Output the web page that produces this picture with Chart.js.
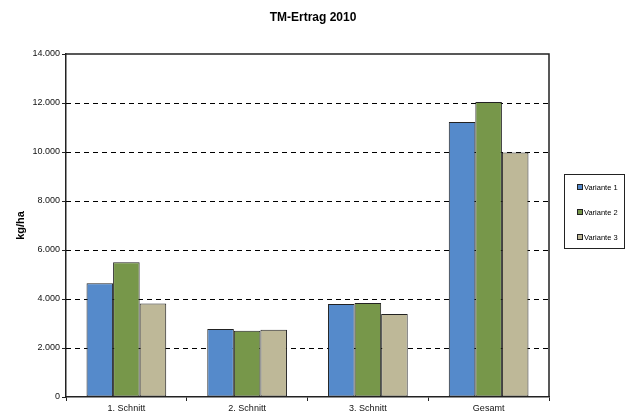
<!DOCTYPE html>
<html>
<head>
    <meta charset="utf-8" />
    <title>TM-Ertrag 2010</title>
    <style>
        html, body { margin: 0; padding: 0; background: #fff; }
        #wrap { width: 626px; height: 415px; }
    </style>
</head>
<body>
    <div id="wrap"><canvas id="chart" width="626" height="415"></canvas></div>

    <script src="https://cdn.jsdelivr.net/npm/chart.js"></script>
    <script type="text/javascript">
        // Werte
        const categories = ['1. Schnitt', '2. Schnitt', '3. Schnitt', 'Gesamt'];
        const seriesNames = ['Variante 1', 'Variante 2', 'Variante 3'];
        const variante1 = [4640, 2780, 3800, 11220];
        const variante2 = [5500, 2700, 3840, 12040];
        const variante3 = [3820, 2740, 3390, 9980];
        const yMax = 14000;
        const yStep = 2000;

        const colors = ['#558acb', '#77974a', '#beb898'];
        const font = 'Arial, "Liberation Sans", sans-serif';

        // Tausenderpunkt wie im Original (14.000)
        function formatNumber(v) {
            return String(v).replace(/\B(?=(\d{3})+(?!\d))/g, '.');
        }

        // gestrichelte Gitterlinien ueber die y-Skala
        const dashedGrid = {
            id: 'dashedGrid',
            beforeDatasetsDraw(chart) {
                const ctx = chart.ctx;
                const a = chart.chartArea;
                const y = chart.scales.y;
                ctx.save();
                ctx.strokeStyle = '#000';
                ctx.lineWidth = 1;
                ctx.setLineDash([5, 4]);
                y.ticks.forEach(t => {
                    if (t.value === 0 || t.value === yMax) return;
                    const py = Math.round(y.getPixelForValue(t.value)) + 0.5;
                    ctx.beginPath();
                    ctx.moveTo(a.left, py);
                    ctx.lineTo(a.right, py);
                    ctx.stroke();
                });
                ctx.restore();
            }
        };

        // Rahmen, Titel und Legende zeichnen
        const frame = {
            id: 'frame',
            afterDraw(chart) {
                const ctx = chart.ctx;
                const a = chart.chartArea;
                ctx.save();
                ctx.strokeStyle = '#222';
                ctx.lineWidth = 1.5;
                ctx.beginPath();
                ctx.moveTo(a.left, a.top);
                ctx.lineTo(a.right, a.top);
                ctx.lineTo(a.right, a.bottom);
                ctx.stroke();

                // Titel
                ctx.fillStyle = '#000';
                ctx.font = 'bold 12px ' + font;
                ctx.textAlign = 'center';
                ctx.textBaseline = 'middle';
                ctx.fillText('TM-Ertrag 2010', 313, 18);

                // Legende
                ctx.lineWidth = 1;
                ctx.strokeStyle = '#222';
                ctx.strokeRect(564.5, 174.5, 60, 74);
                ctx.font = '7.5px ' + font;
                ctx.textAlign = 'left';
                const ys = [187, 212, 237];
                chart.data.datasets.forEach((ds, i) => {
                    ctx.fillStyle = ds.backgroundColor;
                    ctx.fillRect(577, ys[i] - 3, 6, 6);
                    ctx.strokeRect(577.5, ys[i] - 2.5, 5, 5);
                    ctx.fillStyle = '#000';
                    ctx.fillText(ds.label, 584, ys[i] + 0.5);
                });
                ctx.restore();
            }
        };

        const data = {
            labels: categories,
            datasets: [variante1, variante2, variante3].map((vals, i) => ({
                label: seriesNames[i],
                data: vals,
                backgroundColor: colors[i],
                borderColor: '#222',
                borderWidth: 1,
                borderSkipped: false,
                categoryPercentage: 0.66,
                barPercentage: 1.0
            }))
        };

        const ctx = document.getElementById('chart').getContext('2d');
        const myChart = new Chart(ctx, {
            type: 'bar',
            data: data,
            options: {
                responsive: false,
                animation: false,
                layout: { padding: { top: 54, right: 77, bottom: 0, left: 14 } },
                plugins: {
                    legend: { display: false },
                    title: { display: false },
                    tooltip: { enabled: false }
                },
                scales: {
                    x: {
                        afterFit(scale) { scale.height = 18; },
                        grid: {
                            offset: true,
                            drawOnChartArea: false,
                            drawTicks: true,
                            tickLength: 4,
                            tickColor: '#222',
                            tickWidth: 1
                        },
                        border: { color: '#222', width: 1.5 },
                        ticks: {
                            color: '#111',
                            font: { family: font, size: 9 },
                            padding: 2,
                            maxRotation: 0
                        }
                    },
                    y: {
                        min: 0,
                        max: yMax,
                        afterFit(scale) { scale.width = 52; },
                        ticks: {
                            stepSize: yStep,
                            color: '#111',
                            font: { family: font, size: 9 },
                            padding: 2,
                            callback: v => formatNumber(v)
                        },
                        grid: {
                            drawOnChartArea: false,
                            tickLength: 4,
                            tickColor: '#222'
                        },
                        border: { color: '#222', width: 1.5 },
                        title: {
                            display: true,
                            text: 'kg/ha',
                            color: '#000',
                            font: { family: font, size: 11, weight: 'bold' },
                            padding: 0
                        }
                    }
                }
            },
            plugins: [dashedGrid, frame]
        });
    </script>
</body>
</html>
